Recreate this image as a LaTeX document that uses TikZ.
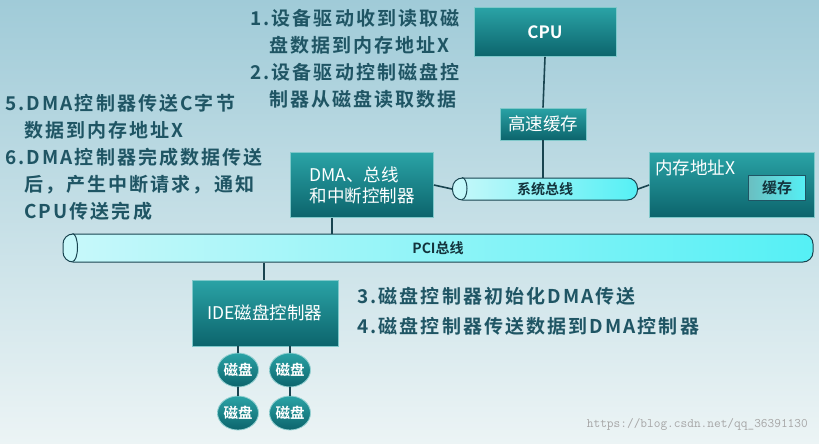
\documentclass[tikz,border=0pt]{standalone}
\usepackage{fontspec}
\setmainfont{Noto Sans CJK SC}[BoldFont={Noto Sans CJK SC Bold}]
\newfontfamily\notefont{Noto Sans CJK SC Bold}[LetterSpace=11]
\usetikzlibrary{shapes.geometric,shapes.misc}
\definecolor{txt}{HTML}{1F5564}
\definecolor{boxtop}{HTML}{2AA3A6}
\definecolor{boxbot}{HTML}{0C646C}
\definecolor{bus}{HTML}{C8F8FA}
\definecolor{busR}{HTML}{55F0F5}
\tikzset{
 box/.style={draw=boxtop!60!white,line width=0.8pt,top color=boxtop,bottom color=boxbot,text=white,font=\fontsize{17.5}{21}\selectfont,inner sep=0pt},
 disk/.style={ellipse,draw=boxtop!50!white,line width=0.8pt,top color=boxtop,bottom color=boxbot,text=white,font=\bfseries\fontsize{14.5}{16}\selectfont,minimum width=40pt,minimum height=34pt,inner sep=0pt},
 busbox/.style={draw=txt!80!black,line width=1pt,left color=bus,right color=busR,rounded corners=10pt,font=\bfseries\fontsize{14}{16}\selectfont,text=txt!60!black},
 note/.style={anchor=north west,text=txt,font=\notefont\fontsize{19}{27}\selectfont,align=left,inner sep=0pt},
 link/.style={draw=txt!80!black,line width=1.6pt}
}
\begin{document}
\begin{tikzpicture}[x=1pt,y=-1pt]
\shade[top color={rgb,255:red,160;green,203;blue,216},bottom color={rgb,255:red,236;green,244;blue,245}] (0,0) rectangle (819,444);
\useasboundingbox (0,0) rectangle (819,444);
% boxes
\node[box,minimum width=142pt,minimum height=49pt,font=\bfseries\fontsize{17}{19}\selectfont] (cpu) at (545,32) {CPU};
\node[box,minimum width=86pt,minimum height=32pt] (cache) at (543,124) {高速缓存};
\node[box,minimum width=143pt,minimum height=65pt,align=left] (dma) at (362,185) {DMA、总线\\和中断控制器};
\node[busbox,minimum width=185pt,minimum height=22pt] (sys) at (545,189) {系统总线};
\node[box,minimum width=165pt,minimum height=65pt] (mem) at (732,185) {};
\node[anchor=north west,text=white,font=\fontsize{17.5}{21}\selectfont,inner sep=0pt] (memt) at (655,160) {内存地址X};
\node[draw=txt,line width=1pt,left color=boxtop!70!white,right color=busR,minimum width=57pt,minimum height=25pt,font=\bfseries\fontsize{15}{17}\selectfont,text=txt!60!black] (mc) at (777,188) {缓存};
\node[busbox,minimum width=750pt,minimum height=28pt] (pci) at (438,248) {PCI总线};
\node[box,minimum width=146pt,minimum height=66pt] (ide) at (265,313) {IDE磁盘控制器};
\node[disk] (d1) at (238,370) {磁盘};
\node[disk] (d2) at (290,370) {磁盘};
\node[disk] (d3) at (238,413) {磁盘};
\node[disk] (d4) at (290,413) {磁盘};
% bus end caps
\draw[draw=txt!80!black,line width=1pt] ([xshift=10pt]sys.north west) arc[start angle=90,end angle=-90,x radius=5pt,y radius=11pt];
\draw[draw=txt!80!black,line width=1pt] ([xshift=10pt]pci.north west) arc[start angle=90,end angle=-90,x radius=5pt,y radius=14pt];
% links
\draw[link] (cpu.south) -- (cache.north);
\draw[link] (cache.south) -- (cache.south |- sys.north);
\draw[link] (dma.east) -- (sys.west);
\draw[link] (sys.east) -- (mem.west);
\draw[link] (dma.south -| 332,0) -- (pci.north -| 332,0);
\draw[link] (pci.south -| 264,0) -- (ide.north -| 264,0);
\draw[link] (d1.north |- ide.south) -- (d1.north);
\draw[link] (d2.north |- ide.south) -- (d2.north);
\draw[link] (d1.south) -- (d3.north);
\draw[link] (d2.south) -- (d4.north);
% notes
\node[note] (n1) at (250,9) {1.设备驱动收到读取磁\\\hspace*{19pt}盘数据到内存地址X\\2.设备驱动控制磁盘控\\\hspace*{19pt}制器从磁盘读取数据};
\node[note] (n5) at (5,94) {5.DMA控制器传送C字节\\\hspace*{19pt}数据到内存地址X\\6.DMA控制器完成数据传送\\\hspace*{19pt}后，产生中断请求，通知\\\hspace*{19pt}CPU传送完成};
\node[note,font=\notefont\fontsize{19}{30}\selectfont] (n3) at (357,287) {3.磁盘控制器初始化DMA传送\\4.磁盘控制器传送数据到DMA控制器};
\node[anchor=east,text=black!35,font=\ttfamily\fontsize{13}{15}\selectfont,inner sep=0pt] (wm) at (808,424) {https://blog.csdn.net/qq\_36391130};
\end{tikzpicture}
\end{document}
